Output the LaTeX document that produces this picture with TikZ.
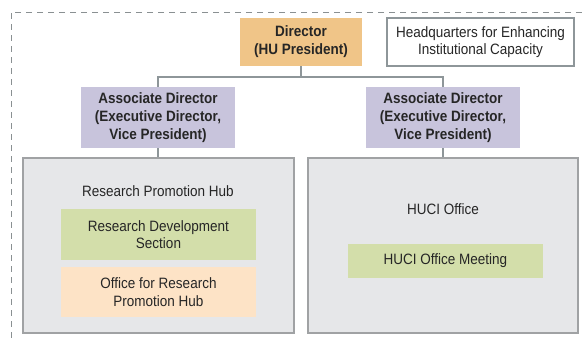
\documentclass[tikz,border=0pt]{standalone}
\usepackage{fontspec}
\setmainfont[FakeStretch=0.9]{Liberation Sans}
\definecolor{dirfill}{HTML}{F0C588}
\definecolor{assocfill}{HTML}{C8C4DC}
\definecolor{hubfill}{HTML}{E6E7E9}
\definecolor{hubdraw}{HTML}{A0A2A4}
\definecolor{greenfill}{HTML}{D3DEAA}
\definecolor{peachfill}{HTML}{FDE3C6}
\definecolor{linegray}{HTML}{8E9699}
\definecolor{framegray}{HTML}{8A9092}
\definecolor{txt}{HTML}{262626}
\tikzset{
  base/.style={rectangle, inner sep=0pt, align=center, text=txt,
    font=\fontsize{15}{17.5}\selectfont},
  dirbox/.style={base, fill=dirfill, font=\fontsize{15}{18}\selectfont\bfseries},
  assocbox/.style={base, fill=assocfill, font=\fontsize{15}{18}\selectfont\bfseries},
  hqbox/.style={base, fill=white, draw=linegray, line width=1.2pt},
  hubbox/.style={base, fill=hubfill, draw=hubdraw, line width=1.6pt},
  greenbox/.style={base, fill=greenfill},
  peachbox/.style={base, fill=peachfill},
  lbl/.style={base},
  conn/.style={draw=linegray, line width=1.2pt},
  frame/.style={draw=framegray, line width=1pt, dash pattern=on 6pt off 5pt}
}
\begin{document}
\begin{tikzpicture}[x=1pt,y=-1pt]
\useasboundingbox (0,0) rectangle (582,338);
\coordinate (ftop) at (582,12);
\coordinate (fcorner) at (11,12);
\coordinate (fbot) at (11,338);
\draw[frame] (ftop) -- (fcorner) -- (fbot);

\node[dirbox, minimum width=122pt, minimum height=48pt] (dir) at (301,42) {Director\\(HU President)};
\node[hqbox, minimum width=187pt, minimum height=48pt] (hq) at (480.5,42) {Headquarters for Enhancing\\Institutional Capacity};

\node[assocbox, minimum width=154pt, minimum height=61pt] (a1) at (158,117.5) {Associate Director\\(Executive Director,\\Vice President)};
\node[assocbox, minimum width=154pt, minimum height=61pt] (a2) at (443,117.5) {Associate Director\\(Executive Director,\\Vice President)};

\node[hubbox, minimum width=271pt, minimum height=175pt] (hub1) at (158.5,245.5) {};
\node[hubbox, minimum width=270pt, minimum height=175pt] (hub2) at (443,245.5) {};

\node[lbl] (hub1lbl) at (158,191) {Research Promotion Hub};
\node[greenbox, minimum width=195pt, minimum height=51pt] (rd) at (158.5,234.5) {Research Development\\Section};
\node[peachbox, minimum width=195pt, minimum height=50pt] (orp) at (158.5,292) {Office for Research\\Promotion Hub};

\node[lbl] (hucilbl) at (443,209) {HUCI Office};
\node[greenbox, minimum width=195pt, minimum height=34pt] (meet) at (445.5,261) {HUCI Office Meeting};

\coordinate (bar) at (0,77);
\draw[conn] (dir.south) -- (dir.south |- bar);
\draw[conn] (a1.north) |- (bar -| a2.north) -- (a2.north);
\draw[conn] (a1.south) -- (a1.south |- hub1.north);
\draw[conn] (a2.south) -- (a2.south |- hub2.north);
\end{tikzpicture}
\end{document}
